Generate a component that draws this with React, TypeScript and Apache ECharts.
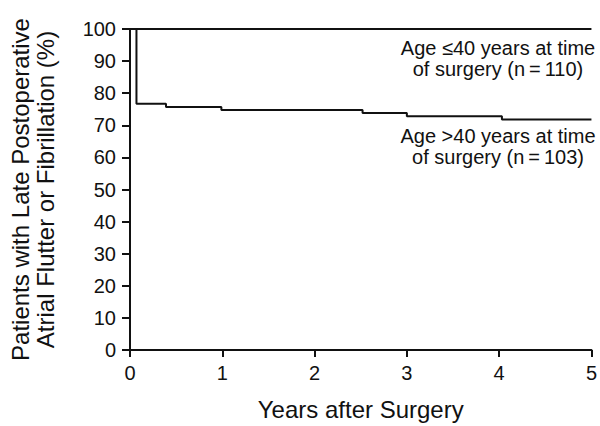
import React, { useEffect, useRef } from "react";
import * as echarts from "echarts";

const olderTimes = [0, 0.07, 0.39, 0.99, 2.52, 3.0, 4.03, 5];
const olderValues = [100, 76.7, 75.7, 74.8, 73.8, 72.8, 71.8, 71.8];
const youngerTimes = [0, 5];
const youngerValues = [100, 100];
const youngerLabel = "Age \u226440 years at time\nof surgery (n\u2009=\u2009110)";
const olderLabel = "Age >40 years at time\nof surgery (n\u2009=\u2009103)";
const xTitle = "Years after Surgery";
const yTitle = "Patients with Late Postoperative\nAtrial Flutter or Fibrillation (%)";

const FONT = "Liberation Sans, Arial, sans-serif";

export default function App() {
  const ref = useRef<HTMLDivElement>(null);
  useEffect(() => {
    if (!ref.current) return;
    const chart = echarts.init(ref.current, undefined, { renderer: "svg" });
    const older = olderTimes.map((t, i) => [t, olderValues[i]]);
    const younger = youngerTimes.map((t, i) => [t, youngerValues[i]]);
    chart.setOption({
      animation: false,
      backgroundColor: "#fff",
      grid: { left: 129, right: 5, top: 29, bottom: 72, containLabel: false },
      xAxis: {
        type: "value",
        min: 0,
        max: 5,
        interval: 1,
        name: xTitle,
        nameLocation: "middle",
        nameGap: 47,
        nameTextStyle: { color: "#111", fontSize: 24, fontFamily: FONT },
        axisLine: { lineStyle: { color: "#111", width: 2 } },
        axisTick: { show: true, length: 7, lineStyle: { color: "#111", width: 2 } },
        axisLabel: { color: "#111", fontSize: 20, fontFamily: FONT, margin: 13 },
        splitLine: { show: false },
      },
      yAxis: {
        type: "value",
        min: 0,
        max: 100,
        interval: 10,
        name: yTitle,
        nameLocation: "middle",
        nameRotate: 90,
        nameGap: 72,
        nameTextStyle: { color: "#111", fontSize: 24, fontFamily: FONT, lineHeight: 25 },
        axisLine: { lineStyle: { color: "#111", width: 2 } },
        axisTick: { show: true, length: 8, lineStyle: { color: "#111", width: 2 } },
        axisLabel: { color: "#111", fontSize: 20, fontFamily: FONT, margin: 14 },
        splitLine: { show: false },
      },
      series: [
        {
          type: "line",
          data: younger,
          step: "end",
          symbol: "none",
          lineStyle: { color: "#111", width: 2 },
        },
        {
          type: "line",
          data: older,
          step: "end",
          symbol: "none",
          lineStyle: { color: "#111", width: 2 },
        },
      ],
      graphic: [
        {
          type: "text",
          x: 498,
          y: 37,
          style: {
            text: youngerLabel,
            fill: "#111",
            fontSize: 20,
            fontFamily: FONT,
            align: "center",
            verticalAlign: "top",
            lineHeight: 21,
          },
        },
        {
          type: "text",
          x: 498,
          y: 125,
          style: {
            text: olderLabel,
            fill: "#111",
            fontSize: 20,
            fontFamily: FONT,
            align: "center",
            verticalAlign: "top",
            lineHeight: 21,
          },
        },
      ],
    });
    return () => chart.dispose();
  }, []);
  return (
    <div
      ref={ref}
      style={{ position: "absolute", left: 0, top: 0, width: 600, height: 426 }}
    />
  );
}
